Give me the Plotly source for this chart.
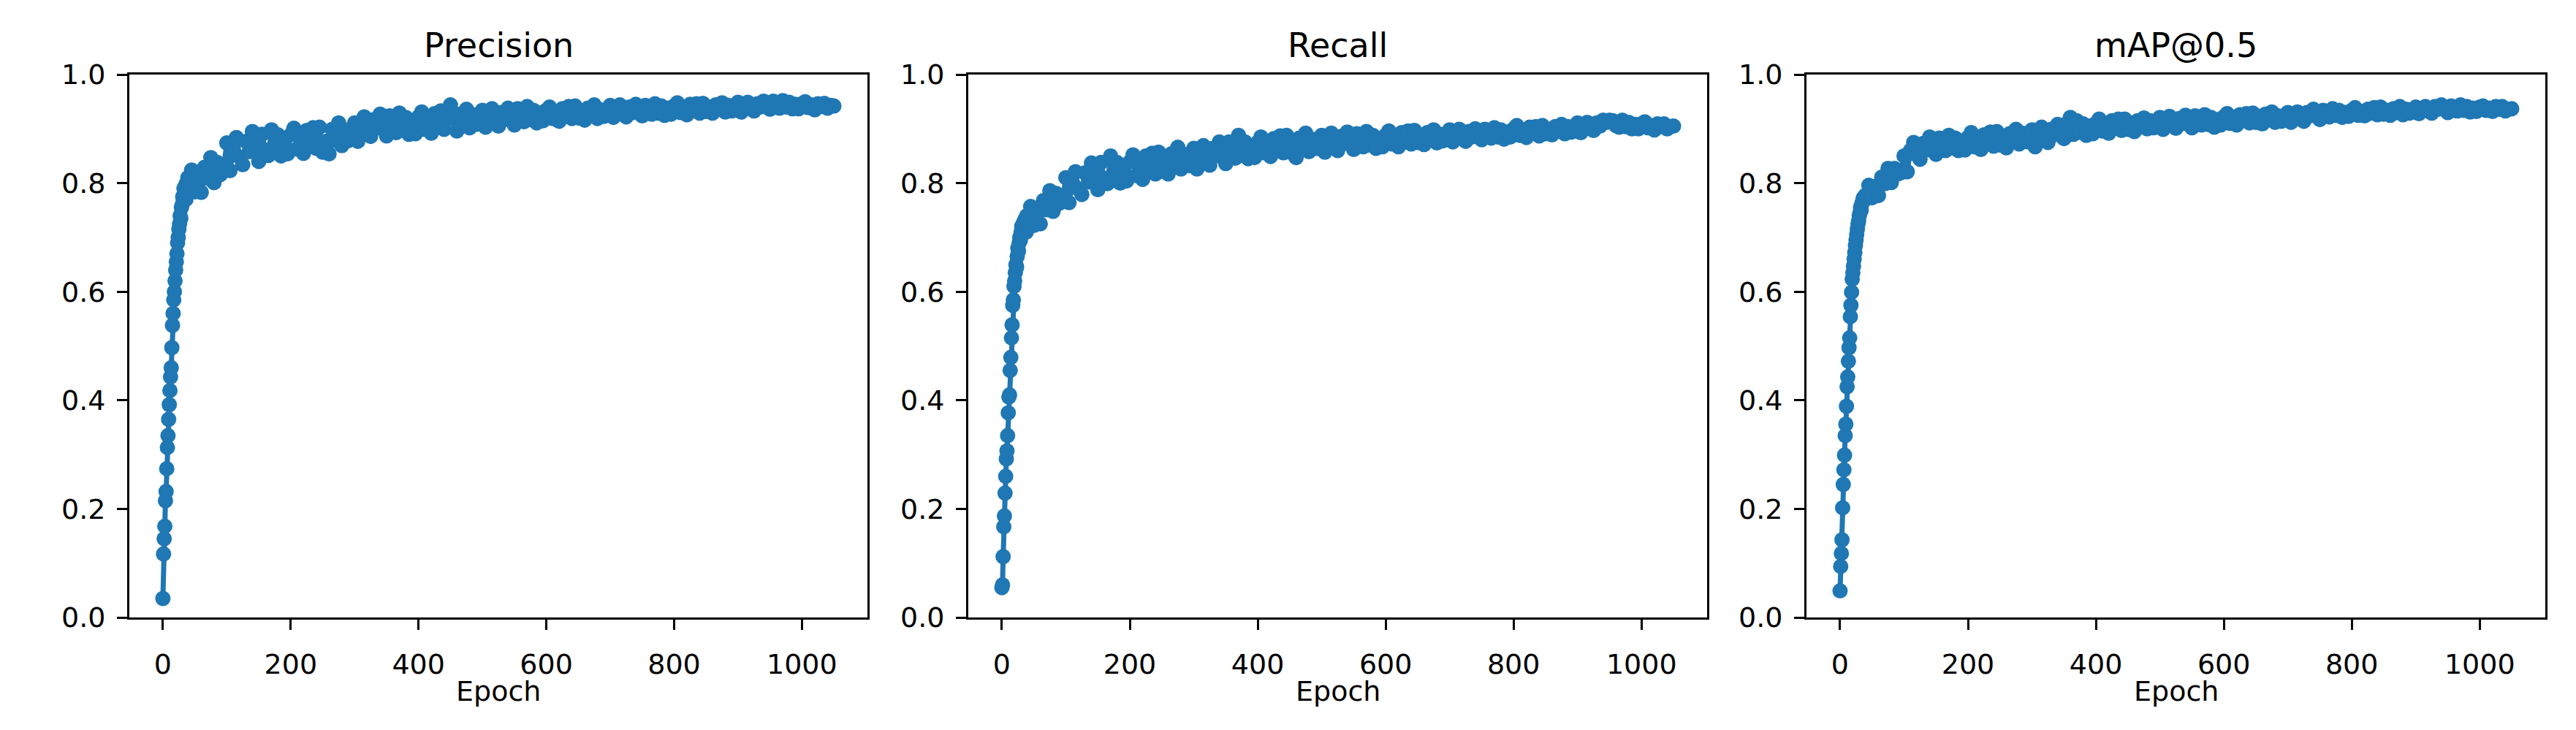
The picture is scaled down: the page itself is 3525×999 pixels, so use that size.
import plotly.graph_objects as go

# ---------------- data ----------------
EPOCHS_FINE = list(range(0, 41))
EPOCHS_COARSE = list(range(45, 1051, 5))
EPOCHS = EPOCHS_FINE + EPOCHS_COARSE

PRECISION = [
    0.035, 0.117, 0.145, 0.168, 0.215, 0.232, 0.274, 0.313, 0.335, 0.365,
    0.392, 0.418, 0.443, 0.46, 0.497, 0.538, 0.56, 0.585, 0.60, 0.62,
    0.64, 0.655, 0.67, 0.69, 0.70, 0.715, 0.725, 0.74, 0.735, 0.755,
    0.76, 0.775, 0.77, 0.79, 0.78, 0.795, 0.77, 0.80, 0.785, 0.81, 0.79,
    0.824, 0.784, 0.812, 0.783, 0.829, 0.809, 0.847, 0.801, 0.838, 0.816,
    0.827, 0.874, 0.823, 0.864, 0.884, 0.848, 0.834, 0.877, 0.858, 0.895,
    0.877, 0.84, 0.89, 0.861, 0.851, 0.898, 0.858, 0.889, 0.85, 0.88,
    0.854, 0.889, 0.901, 0.863, 0.883, 0.855, 0.897, 0.874, 0.902, 0.864,
    0.903, 0.857, 0.877, 0.854, 0.899, 0.879, 0.911, 0.869, 0.898, 0.878,
    0.881, 0.911, 0.877, 0.906, 0.922, 0.897, 0.886, 0.917, 0.902, 0.927,
    0.915, 0.887, 0.924, 0.901, 0.893, 0.929, 0.898, 0.921, 0.89, 0.914,
    0.891, 0.922, 0.931, 0.899, 0.916, 0.892, 0.928, 0.907, 0.933, 0.899,
    0.932, 0.944, 0.919, 0.896, 0.927, 0.91, 0.936, 0.902, 0.926, 0.908,
    0.909, 0.934, 0.903, 0.926, 0.937, 0.914, 0.905, 0.93, 0.917, 0.938,
    0.93, 0.907, 0.937, 0.918, 0.913, 0.941, 0.917, 0.934, 0.911, 0.929,
    0.915, 0.934, 0.94, 0.919, 0.93, 0.914, 0.937, 0.924, 0.941, 0.919,
    0.942, 0.92, 0.933, 0.916, 0.938, 0.926, 0.944, 0.919, 0.935, 0.923,
    0.926, 0.943, 0.921, 0.937, 0.944, 0.927, 0.922, 0.94, 0.93, 0.945,
    0.939, 0.924, 0.943, 0.932, 0.927, 0.946, 0.929, 0.942, 0.925, 0.938,
    0.927, 0.942, 0.948, 0.93, 0.94, 0.926, 0.945, 0.934, 0.946, 0.929,
    0.947, 0.932, 0.94, 0.929, 0.944, 0.936, 0.948, 0.931, 0.943, 0.933,
    0.935, 0.949, 0.931, 0.944, 0.949, 0.937, 0.933, 0.946, 0.94, 0.951,
    0.947, 0.936, 0.951, 0.941, 0.938, 0.952, 0.94, 0.949, 0.937, 0.945,
    0.937, 0.946, 0.95, 0.939, 0.944, 0.935, 0.946, 0.941, 0.947, 0.938,
    0.943, 0.942,
]

RECALL = [
    0.055, 0.06, 0.112, 0.167, 0.187, 0.229, 0.26, 0.292, 0.307, 0.335,
    0.377, 0.406, 0.41, 0.455, 0.479, 0.515, 0.539, 0.575, 0.585, 0.61,
    0.62, 0.635, 0.65, 0.645, 0.665, 0.68, 0.675, 0.69, 0.70, 0.695,
    0.71, 0.72, 0.705, 0.725, 0.715, 0.73, 0.72, 0.735, 0.71, 0.74, 0.725,
    0.757, 0.722, 0.75, 0.725, 0.768, 0.751, 0.786, 0.748, 0.781, 0.763,
    0.769, 0.81, 0.764, 0.802, 0.821, 0.789, 0.779, 0.819, 0.802, 0.837,
    0.824, 0.788, 0.838, 0.809, 0.799, 0.85, 0.807, 0.838, 0.8, 0.83,
    0.804, 0.839, 0.852, 0.814, 0.835, 0.807, 0.85, 0.827, 0.855, 0.817,
    0.857, 0.822, 0.844, 0.817, 0.854, 0.835, 0.866, 0.826, 0.853, 0.834,
    0.832, 0.864, 0.826, 0.856, 0.869, 0.843, 0.833, 0.864, 0.85, 0.876,
    0.865, 0.836, 0.876, 0.853, 0.846, 0.888, 0.852, 0.876, 0.845, 0.868,
    0.847, 0.875, 0.885, 0.856, 0.872, 0.849, 0.882, 0.863, 0.887, 0.856,
    0.888, 0.857, 0.875, 0.847, 0.883, 0.866, 0.892, 0.858, 0.881, 0.864,
    0.864, 0.888, 0.857, 0.881, 0.892, 0.869, 0.86, 0.886, 0.873, 0.894,
    0.885, 0.862, 0.891, 0.872, 0.867, 0.895, 0.87, 0.888, 0.864, 0.882,
    0.867, 0.888, 0.896, 0.872, 0.885, 0.867, 0.893, 0.878, 0.896, 0.872,
    0.897, 0.875, 0.888, 0.871, 0.893, 0.881, 0.898, 0.874, 0.89, 0.878,
    0.881, 0.898, 0.876, 0.892, 0.899, 0.882, 0.877, 0.895, 0.885, 0.9,
    0.895, 0.88, 0.899, 0.888, 0.883, 0.902, 0.885, 0.898, 0.881, 0.894,
    0.885, 0.9, 0.906, 0.888, 0.898, 0.884, 0.903, 0.892, 0.904, 0.887,
    0.906, 0.891, 0.899, 0.889, 0.904, 0.896, 0.908, 0.891, 0.904, 0.894,
    0.896, 0.911, 0.893, 0.906, 0.912, 0.901, 0.897, 0.911, 0.905, 0.916,
    0.912, 0.916, 0.915, 0.906, 0.903, 0.916, 0.904, 0.912, 0.9, 0.908,
    0.9, 0.909, 0.913, 0.902, 0.906, 0.898, 0.909, 0.904, 0.909, 0.9,
    0.904, 0.905,
]

MAP50 = [
    0.049, 0.094, 0.118, 0.143, 0.202, 0.245, 0.272, 0.299, 0.335, 0.356,
    0.389, 0.425, 0.443, 0.472, 0.497, 0.515, 0.554, 0.575, 0.599, 0.623,
    0.635, 0.647, 0.66, 0.672, 0.685, 0.695, 0.705, 0.715, 0.725, 0.73,
    0.74, 0.745, 0.755, 0.75, 0.762, 0.765, 0.772, 0.768, 0.775, 0.77, 0.778,
    0.796, 0.773, 0.794, 0.777, 0.811, 0.799, 0.827, 0.801, 0.827, 0.817,
    0.819, 0.85, 0.821, 0.86, 0.875, 0.852, 0.844, 0.873, 0.861, 0.885,
    0.875, 0.853, 0.883, 0.865, 0.86, 0.888, 0.865, 0.883, 0.86, 0.878,
    0.861, 0.884, 0.893, 0.867, 0.88, 0.862, 0.889, 0.872, 0.894, 0.868,
    0.895, 0.87, 0.884, 0.865, 0.891, 0.877, 0.899, 0.872, 0.892, 0.877,
    0.876, 0.898, 0.867, 0.893, 0.903, 0.882, 0.875, 0.899, 0.889, 0.908,
    0.903, 0.882, 0.91, 0.921, 0.89, 0.915, 0.894, 0.909, 0.888, 0.905,
    0.891, 0.91, 0.918, 0.896, 0.907, 0.892, 0.915, 0.901, 0.918, 0.897,
    0.918, 0.899, 0.91, 0.895, 0.915, 0.904, 0.92, 0.9, 0.915, 0.902,
    0.904, 0.921, 0.899, 0.915, 0.923, 0.906, 0.901, 0.919, 0.91, 0.925,
    0.92, 0.902, 0.924, 0.91, 0.907, 0.926, 0.908, 0.921, 0.903, 0.917,
    0.907, 0.922, 0.928, 0.91, 0.921, 0.907, 0.926, 0.915, 0.928, 0.911,
    0.929, 0.912, 0.923, 0.909, 0.927, 0.917, 0.931, 0.912, 0.924, 0.914,
    0.916, 0.93, 0.912, 0.926, 0.931, 0.919, 0.914, 0.93, 0.924, 0.936,
    0.931, 0.917, 0.934, 0.925, 0.922, 0.937, 0.925, 0.934, 0.921, 0.93,
    0.923, 0.934, 0.939, 0.925, 0.932, 0.924, 0.936, 0.929, 0.939, 0.926,
    0.94, 0.927, 0.934, 0.925, 0.937, 0.93, 0.941, 0.926, 0.936, 0.929,
    0.931, 0.94, 0.928, 0.938, 0.941, 0.933, 0.929, 0.941, 0.936, 0.944,
    0.94, 0.93, 0.942, 0.934, 0.933, 0.944, 0.934, 0.941, 0.931, 0.938,
    0.932, 0.94, 0.942, 0.934, 0.938, 0.932, 0.941, 0.936, 0.941, 0.933,
    0.936, 0.937,
]

TITLES = ["Precision", "Recall", "mAP@0.5"]
SERIES = [PRECISION, RECALL, MAP50]
X_TICKS = [0, 200, 400, 600, 800, 1000]
Y_TICKS = [0.0, 0.2, 0.4, 0.6, 0.8, 1.0]
X_LABEL = "Epoch"

# ---------------- layout ----------------
W, H = 3525, 999
COLOR = "#1f77b4"
FONT = "DejaVu Sans"
TICK_SIZE = 38
TITLE_SIZE = 46

# axes boxes in figure pixels (the page body adds an 8px margin)
BOXES = [(169, 1179), (1317, 2328), (2464, 3475)]
TOP, BOTTOM = 94, 837
TITLE_BOTTOM = 83
LABEL_TOP = 914

fig = go.Figure()
xmax = max(EPOCHS)
xrange = [-0.05 * xmax, 1.05 * xmax]

annotations = []
for i, (title, ys) in enumerate(zip(TITLES, SERIES)):
    n = "" if i == 0 else str(i + 1)
    fig.add_trace(go.Scatter(
        x=EPOCHS, y=ys, mode="lines+markers",
        line=dict(color=COLOR, width=7),
        marker=dict(color=COLOR, size=21, line=dict(width=0)),
        xaxis="x" + n, yaxis="y" + n, showlegend=False,
    ))
    l, r = BOXES[i]
    axis_common = dict(
        showline=True, linecolor="black", linewidth=3, mirror=True,
        ticks="outside", ticklen=14, tickwidth=3, tickcolor="black",
        showgrid=False, zeroline=False, automargin=False,
        tickfont=dict(family=FONT, size=TICK_SIZE, color="black"),
    )
    fig.layout["xaxis" + n] = dict(
        domain=[l / W, r / W], range=xrange, tickvals=X_TICKS,
        anchor="y" + n, ticklabelstandoff=14, **axis_common,
    )
    fig.layout["yaxis" + n] = dict(
        domain=[(H - BOTTOM) / H, (H - TOP) / H], range=[0, 1],
        tickvals=Y_TICKS, tickformat=".1f", anchor="x" + n,
        ticklabelstandoff=8, **axis_common,
    )
    cx = (l + r) / 2 / W
    annotations.append(dict(
        text=title, x=cx, y=(H - TITLE_BOTTOM) / H, xref="paper", yref="paper",
        xanchor="center", yanchor="bottom", showarrow=False,
        font=dict(family=FONT, size=TITLE_SIZE, color="black"),
    ))
    annotations.append(dict(
        text=X_LABEL, x=cx, y=(H - LABEL_TOP) / H, xref="paper", yref="paper",
        xanchor="center", yanchor="top", showarrow=False,
        font=dict(family=FONT, size=TICK_SIZE, color="black"),
    ))

fig.update_layout(
    width=W, height=H, autosize=False,
    margin=dict(l=0, r=0, t=0, b=0, pad=0),
    paper_bgcolor="white", plot_bgcolor="white",
    annotations=annotations,
    font=dict(family=FONT),
)

fig.write_html("out.html")
